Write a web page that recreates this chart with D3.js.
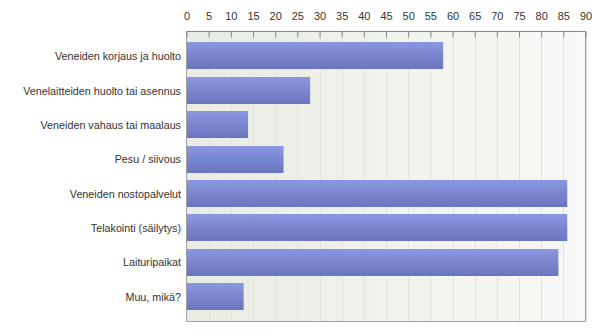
<!DOCTYPE html>
<html>
<head>
<meta charset="utf-8">
<script src="https://cdn.jsdelivr.net/npm/d3@7"></script>
<style>
body{margin:0;background:#fff;}
text{font-family:"Liberation Sans",Arial,sans-serif;}
</style>
</head>
<body>
<div id="chart"></div>
<script>
"use strict";

var categories=["Veneiden korjaus ja huolto","Venelaitteiden huolto tai asennus","Veneiden vahaus tai maalaus","Pesu / siivous","Veneiden nostopalvelut","Telakointi (säilytys)","Laituripaikat","Muu, mikä?"];
var values=[58,28,14,22,86,86,84,13];
var ticks=[0,5,10,15,20,25,30,35,40,45,50,55,60,65,70,75,80,85,90];

function draw_chart(){
    var w=600, h=336;
    var pl=186.5, pr=585.5, pt=31.5, pb=321.5;

    var svg=d3.select("#chart").append("svg")
        .attr("width",w)
        .attr("height",h);

    var defs=svg.append("defs");
    var bg=defs.append("linearGradient").attr("id","bg").attr("x1","0").attr("x2","1").attr("y1","0").attr("y2","0");
    bg.append("stop").attr("offset","0%").attr("stop-color","#e8ece2");
    bg.append("stop").attr("offset","100%").attr("stop-color","#f8f8f6");

    var bar=defs.append("linearGradient").attr("id","bar").attr("x1","0").attr("x2","0").attr("y1","0").attr("y2","1");
    bar.append("stop").attr("offset","0%").attr("stop-color","#8c97e2");
    bar.append("stop").attr("offset","100%").attr("stop-color","#6a75bd");

    var x=d3.scaleLinear().domain([0,90]).range([pl,pr]);
    var y=d3.scaleBand().domain(categories).range([pt,pb]).paddingInner(0.2).paddingOuter(0.32);

    // plot background
    svg.append("rect")
        .attr("x",pl).attr("y",pt)
        .attr("width",pr-pl).attr("height",pb-pt)
        .attr("fill","url(#bg)");

    // grid lines
    svg.append("g").selectAll("line")
        .data(ticks.slice(1))
        .enter().append("line")
        .attr("x1",function(d){return Math.round(x(d))+0.5;})
        .attr("x2",function(d){return Math.round(x(d))+0.5;})
        .attr("y1",pt).attr("y2",pb)
        .attr("stroke","#e0e2dc")
        .attr("stroke-width",1);

    // bars
    svg.append("g").selectAll("rect")
        .data(values)
        .enter().append("rect")
        .attr("x",x(0)-0.5)
        .attr("y",function(d,i){return Math.round(y(categories[i]));})
        .attr("width",function(d){return x(d)-x(0);})
        .attr("height",Math.round(y.bandwidth()))
        .attr("fill","url(#bar)");

    // frame
    svg.append("path")
        .attr("d","M"+pl+","+pt+"V"+pb+"H"+pr+"V"+pt)
        .attr("fill","none")
        .attr("stroke","#a0a0a0");

    // top axis
    var axis=d3.axisTop(x).tickValues(ticks).tickSize(-6).tickPadding(12);
    var ax=svg.append("g")
        .attr("transform","translate(0,"+pt+")")
        .call(axis);
    ax.select(".domain").attr("stroke","#8a8a8a").attr("d","M"+pl+",0H"+pr);
    ax.selectAll(".tick line").attr("stroke","#8a8a8a");
    ax.selectAll(".tick text")
        .attr("fill","#333")
        .style("font-size","11px")
        .style("font-family","'Liberation Sans',Arial,sans-serif");

    // category labels
    svg.append("g").selectAll("text")
        .data(categories)
        .enter().append("text")
        .attr("x",181)
        .attr("y",function(d){return y(d)+y.bandwidth()/2+4;})
        .attr("text-anchor","end")
        .attr("fill","#333")
        .style("font-size","10.75px")
        .text(function(d){return d;});
}

draw_chart();
</script>
</body>
</html>
